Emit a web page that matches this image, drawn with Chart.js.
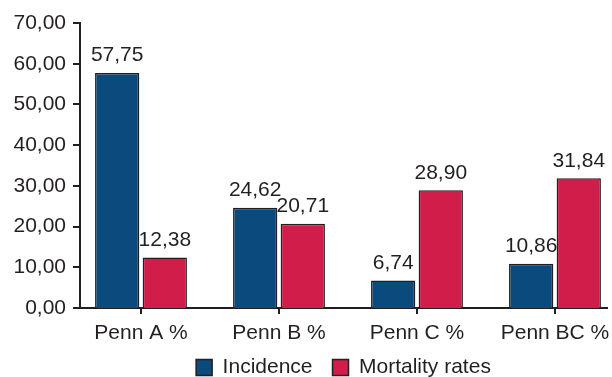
<!DOCTYPE html>
<html>
<head>
<meta charset="utf-8">
<script src="https://cdn.jsdelivr.net/npm/chart.js@4/dist/chart.umd.min.js"></script>
<style>
  html, body { margin: 0; padding: 0; background: #fff; }
  #wrap { width: 612px; height: 377px; }
</style>
</head>
<body>
<div id="wrap"><canvas id="penn" width="612" height="377"></canvas></div>
<script>
const categories = ['Penn A %', 'Penn B %', 'Penn C %', 'Penn BC %'];
const incidence = [57.75, 24.62, 6.74, 10.86];
const mortality = [12.38, 20.71, 28.90, 31.84];
const yTicks = [0, 10, 20, 30, 40, 50, 60, 70];

const ink = '#231f20';
const font = { family: '"Liberation Sans", Arial, sans-serif', size: 21 };
const fmt = v => v.toFixed(2).replace('.', ',');
const points = arr => arr.map((v, i) => ({ x: i, y: v }));

// value labels above each bar, plus short outward tick marks on the y axis
const barValues = {
  id: 'barValues',
  afterLayout(chart) {
    // pull the legend up a bit so it sits closer to the category labels
    chart.legend.top -= 17;
    chart.legend.bottom -= 17;
  },
  afterDatasetsDraw(chart) {
    const ctx = chart.ctx;
    ctx.save();
    ctx.font = '21px "Liberation Sans", Arial, sans-serif';
    ctx.fillStyle = ink;
    ctx.textAlign = 'center';
    ctx.textBaseline = 'bottom';
    chart.data.datasets.forEach((ds, i) => {
      chart.getDatasetMeta(i).data.forEach((bar, j) => {
        ctx.fillText(fmt(ds.data[j].y), bar.x, bar.y - 7);
      });
    });
    const y = chart.scales.y;
    ctx.strokeStyle = ink;
    ctx.lineWidth = 2;
    y.ticks.forEach(t => {
      const py = Math.round(y.getPixelForValue(t.value));
      ctx.beginPath();
      ctx.moveTo(y.right - 7, py);
      ctx.lineTo(y.right, py);
      ctx.stroke();
    });
    ctx.restore();
  }
};

new Chart(document.getElementById('penn'), {
  type: 'bar',
  data: {
    datasets: [
      { label: 'Incidence', data: points(incidence), backgroundColor: '#0a4a7c', borderColor: ink, borderWidth: 1.5, borderSkipped: 'bottom' },
      { label: 'Mortality rates', data: points(mortality), backgroundColor: '#d01d49', borderColor: ink, borderWidth: 1.5, borderSkipped: 'bottom' }
    ]
  },
  options: {
    responsive: false,
    animation: false,
    layout: { padding: { top: 23, right: 5, left: 0, bottom: -28 } },
    datasets: { bar: { categoryPercentage: 0.69, barPercentage: 0.93 } },
    plugins: {
      legend: {
        position: 'bottom',
        fullSize: false,
        labels: { color: ink, font: font, boxWidth: 16, boxHeight: 16, padding: 20 }
      },
      tooltip: { enabled: false }
    },
    scales: {
      x: {
        type: 'linear',
        offset: false,
        bounds: 'data',
        min: -0.442, max: 3.377,
        afterBuildTicks: s => { s.ticks = categories.map((c, i) => ({ value: i })); },
        grid: { offset: false, drawOnChartArea: false, drawTicks: true, tickLength: 6, color: ink, lineWidth: 2 },
        border: { color: ink, width: 2 },
        ticks: { color: ink, font: font, padding: 7, callback: v => categories[v] },
        afterFit: s => { s.height = 46; s.paddingLeft = 0; s.paddingRight = 0; }
      },
      y: {
        min: yTicks[0], max: yTicks[yTicks.length - 1],
        ticks: { stepSize: yTicks[1] - yTicks[0], color: ink, font: font, padding: 14, callback: v => fmt(v) },
        grid: { display: false, drawTicks: false },
        border: { color: ink, width: 2 },
        afterFit: s => { s.width = 80; s.paddingTop = 0; s.paddingBottom = 0; }
      }
    }
  },
  plugins: [barValues]
});
</script>
</body>
</html>
